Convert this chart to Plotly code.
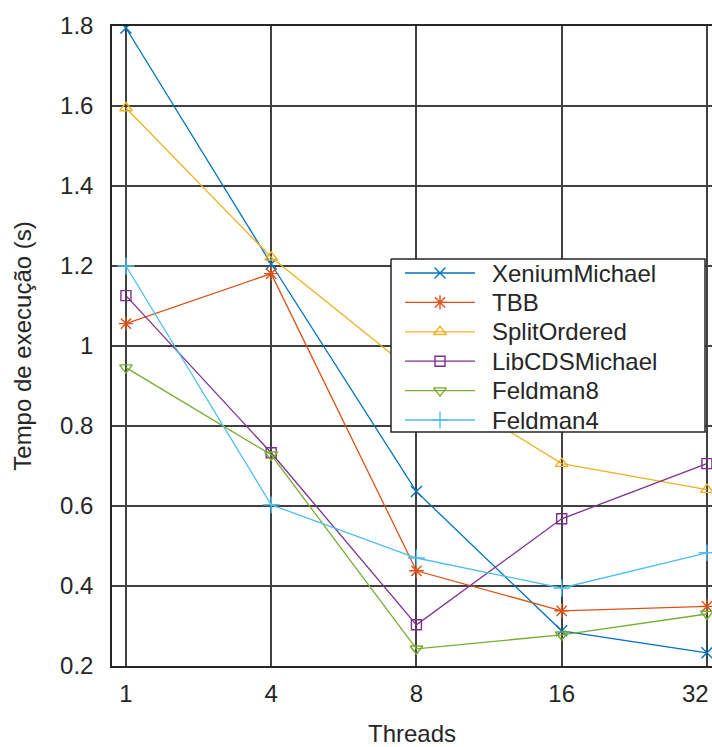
import plotly.graph_objects as go

threads = ["1", "4", "8", "16", "32"]
series_names = ["XeniumMichael", "TBB", "SplitOrdered", "LibCDSMichael", "Feldman8", "Feldman4"]
xenium = [1.795, 1.205, 0.636, 0.288, 0.233]
tbb = [1.056, 1.181, 0.438, 0.338, 0.349]
split_ordered = [1.595, 1.222, 0.93, 0.706, 0.641]
libcds = [1.126, 0.733, 0.303, 0.568, 0.706]
feldman8 = [0.946, 0.728, 0.243, 0.278, 0.33]
feldman4 = [1.2, 0.603, 0.47, 0.395, 0.483]
y_ticks = [0.2, 0.4, 0.6, 0.8, 1.0, 1.2, 1.4, 1.6, 1.8]
y_tick_labels = ["0.2", "0.4", "0.6", "0.8", "1", "1.2", "1.4", "1.6", "1.8"]

values = [xenium, tbb, split_ordered, libcds, feldman8, feldman4]
colors = ["#0072BD", "#D95319", "#EDB120", "#7E2F8E", "#77AC30", "#4DBEEE"]
symbols = ["x-thin-open", "asterisk-open", "triangle-up-open", "square-open", "triangle-down-open", "cross-thin-open"]
sizes = [11, 12, 11, 10, 11, 12]

FONT = "Liberation Sans"
TXT = "#262626"
FS = 24

# plot area in pixels (used for the overlay legend axis)
L, R, T, B = 112, 712, 26, 666
W, H = 712, 747

# the last tick label is right-aligned to its tick (as in the reference) so it stays in the page
x_tick_text = threads[:-1] + [""]

fig = go.Figure()
for name, ys, c, s, sz in zip(series_names, values, colors, symbols, sizes):
    fig.add_trace(go.Scatter(
        x=list(range(len(threads))), y=ys, name=name, mode="lines+markers",
        line=dict(color=c, width=1.3),
        marker=dict(symbol=s, size=sz, color=c, line=dict(color=c, width=1.4)),
        showlegend=False,
    ))

# ---- manual legend drawn on an overlay axis in pixel units ----
box = dict(x0=391, x1=705, y0=259, y1=432)
row0, row_step = 273, 29.4
line_x0, line_x1, mark_x, text_x = 405, 475, 440, 490

fig.add_trace(go.Scatter(
    x=[box["x0"], box["x1"], box["x1"], box["x0"], box["x0"]],
    y=[box["y0"], box["y0"], box["y1"], box["y1"], box["y0"]],
    mode="lines", fill="toself", fillcolor="white",
    line=dict(color="#262626", width=1.5),
    xaxis="x2", yaxis="y2", showlegend=False, hoverinfo="skip",
))
annotations = []
for i, (name, c, s, sz) in enumerate(zip(series_names, colors, symbols, sizes)):
    yy = row0 + i * row_step
    fig.add_trace(go.Scatter(
        x=[line_x0, line_x1], y=[yy, yy], mode="lines",
        line=dict(color=c, width=1.3),
        xaxis="x2", yaxis="y2", showlegend=False, hoverinfo="skip",
    ))
    fig.add_trace(go.Scatter(
        x=[mark_x], y=[yy], mode="markers",
        marker=dict(symbol=s, size=sz, color=c, line=dict(color=c, width=1.4)),
        xaxis="x2", yaxis="y2", showlegend=False, hoverinfo="skip",
    ))
    annotations.append(dict(
        x=text_x, y=yy, xref="x2", yref="y2", text=name, showarrow=False,
        xanchor="left", yanchor="middle",
        font=dict(family=FONT, size=FS, color=TXT),
    ))

annotations.append(dict(
    x=len(threads) - 1, y=0, xref="x", yref="paper", text=threads[-1], showarrow=False,
    xanchor="right", yanchor="middle", xshift=4, yshift=-27,
    font=dict(family=FONT, size=FS, color=TXT),
))

fig.update_layout(
    width=W, height=H,
    margin=dict(l=L, r=W - R, t=T, b=H - B),
    paper_bgcolor="white", plot_bgcolor="white",
    font=dict(family=FONT, size=FS, color=TXT),
    showlegend=False,
    annotations=annotations,
    xaxis2=dict(overlaying="x", range=[L, R], visible=False, fixedrange=True, automargin=False),
    yaxis2=dict(overlaying="y", range=[B, T], visible=False, fixedrange=True, automargin=False),
)
fig.update_layout(xaxis=dict(
    range=[-0.096, 4.035],
    tickvals=list(range(len(threads))), ticktext=x_tick_text,
    showgrid=True, gridcolor="#404040", gridwidth=1.5,
    showline=True, linecolor="#262626", linewidth=1.5, mirror=True,
    zeroline=False, ticks="", ticklabelstandoff=5, ticklabeloverflow="allow",
    automargin=False,
    tickfont=dict(family=FONT, size=FS, color=TXT),
    title=dict(text="Threads", font=dict(family=FONT, size=FS, color=TXT), standoff=24),
))
fig.update_layout(yaxis=dict(
    range=[0.2, 1.8],
    tickvals=y_ticks, ticktext=y_tick_labels,
    showgrid=True, gridcolor="#404040", gridwidth=1.5,
    showline=True, linecolor="#262626", linewidth=1.5, mirror=True,
    zeroline=False, ticks="", ticklabelstandoff=12,
    automargin=False,
    tickfont=dict(family=FONT, size=FS, color=TXT),
    title=dict(text="Tempo de execução (s)", font=dict(family=FONT, size=FS, color=TXT), standoff=22),
))

fig.write_html("out.html")
